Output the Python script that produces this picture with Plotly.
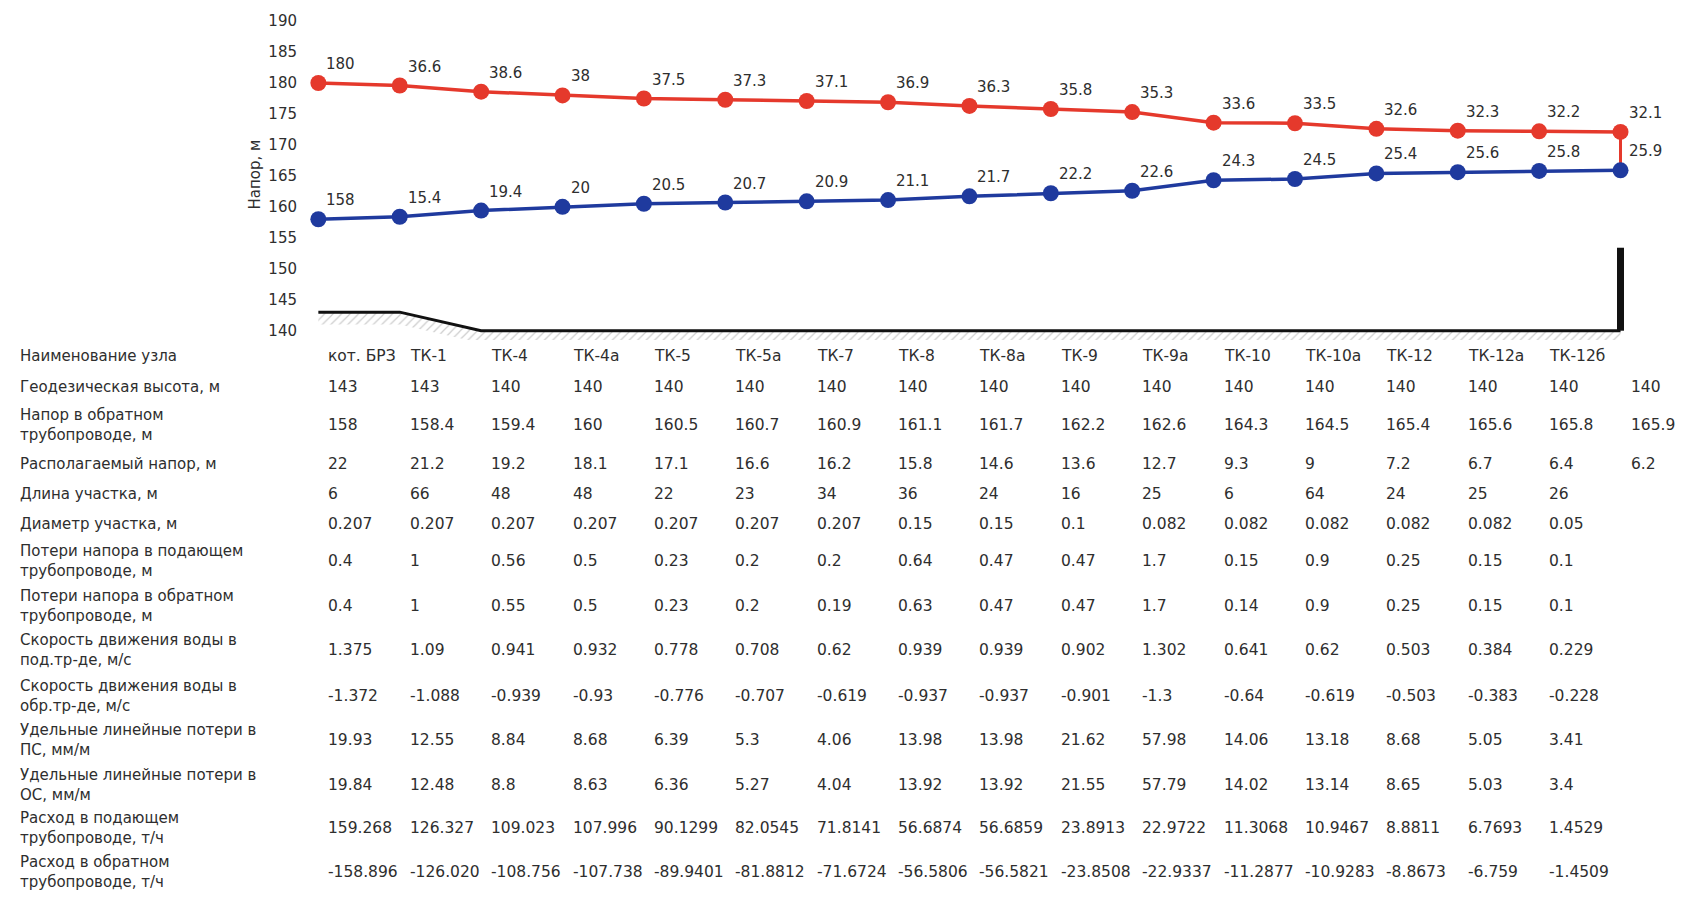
import plotly.graph_objects as go

# ---------------- data ----------------
nodes = ["кот. БРЗ", "ТК-1", "ТК-4", "ТК-4а", "ТК-5", "ТК-5а", "ТК-7", "ТК-8", "ТК-8а",
         "ТК-9", "ТК-9а", "ТК-10", "ТК-10а", "ТК-12", "ТК-12а", "ТК-12б", ""]
geo_height = [143, 143, 140, 140, 140, 140, 140, 140, 140, 140, 140, 140, 140, 140, 140, 140, 140]
supply_head = [180, 179.6, 178.6, 178, 177.5, 177.3, 177.1, 176.9, 176.3, 175.8, 175.3,
               173.6, 173.5, 172.6, 172.3, 172.2, 172.1]
return_head = [158, 158.4, 159.4, 160, 160.5, 160.7, 160.9, 161.1, 161.7, 162.2, 162.6,
               164.3, 164.5, 165.4, 165.6, 165.8, 165.9]
supply_labels = ["180", "36.6", "38.6", "38", "37.5", "37.3", "37.1", "36.9", "36.3", "35.8",
                 "35.3", "33.6", "33.5", "32.6", "32.3", "32.2", "32.1"]
return_labels = ["158", "15.4", "19.4", "20", "20.5", "20.7", "20.9", "21.1", "21.7", "22.2",
                 "22.6", "24.3", "24.5", "25.4", "25.6", "25.8", "25.9"]
consumer_top = 153.4  # top of the consumer marker at the last node

available_head = [22, 21.2, 19.2, 18.1, 17.1, 16.6, 16.2, 15.8, 14.6, 13.6, 12.7, 9.3, 9, 7.2, 6.7, 6.4, 6.2]
section_length = [6, 66, 48, 48, 22, 23, 34, 36, 24, 16, 25, 6, 64, 24, 25, 26]
section_diameter = [0.207, 0.207, 0.207, 0.207, 0.207, 0.207, 0.207, 0.15, 0.15, 0.1, 0.082,
                    0.082, 0.082, 0.082, 0.082, 0.05]
loss_supply = [0.4, 1, 0.56, 0.5, 0.23, 0.2, 0.2, 0.64, 0.47, 0.47, 1.7, 0.15, 0.9, 0.25, 0.15, 0.1]
loss_return = [0.4, 1, 0.55, 0.5, 0.23, 0.2, 0.19, 0.63, 0.47, 0.47, 1.7, 0.14, 0.9, 0.25, 0.15, 0.1]
vel_supply = [1.375, 1.09, 0.941, 0.932, 0.778, 0.708, 0.62, 0.939, 0.939, 0.902, 1.302,
              0.641, 0.62, 0.503, 0.384, 0.229]
vel_return = [-1.372, -1.088, -0.939, -0.93, -0.776, -0.707, -0.619, -0.937, -0.937, -0.901,
              -1.3, -0.64, -0.619, -0.503, -0.383, -0.228]
spec_loss_ps = [19.93, 12.55, 8.84, 8.68, 6.39, 5.3, 4.06, 13.98, 13.98, 21.62, 57.98,
                14.06, 13.18, 8.68, 5.05, 3.41]
spec_loss_os = [19.84, 12.48, 8.8, 8.63, 6.36, 5.27, 4.04, 13.92, 13.92, 21.55, 57.79,
                14.02, 13.14, 8.65, 5.03, 3.4]
flow_supply = ["159.268", "126.327", "109.023", "107.996", "90.1299", "82.0545", "71.8141",
               "56.6874", "56.6859", "23.8913", "22.9722", "11.3068", "10.9467", "8.8811",
               "6.7693", "1.4529"]
flow_return = ["-158.896", "-126.020", "-108.756", "-107.738", "-89.9401", "-81.8812",
               "-71.6724", "-56.5806", "-56.5821", "-23.8508", "-22.9337", "-11.2877",
               "-10.9283", "-8.8673", "-6.759", "-1.4509"]
y_ticks = [140, 145, 150, 155, 160, 165, 170, 175, 180, 185, 190]


def fmt(v):
    return v if isinstance(v, str) else f"{v:g}"


table_rows = [
    ("Наименование узла", nodes),
    ("Геодезическая высота, м", geo_height),
    ("Напор в обратном<br>трубопроводе, м", return_head),
    ("Располагаемый напор, м", available_head),
    ("Длина участка, м", section_length),
    ("Диаметр участка, м", section_diameter),
    ("Потери напора в подающем<br>трубопроводе, м", loss_supply),
    ("Потери напора в обратном<br>трубопроводе, м", loss_return),
    ("Скорость движения воды в<br>под.тр-де, м/с", vel_supply),
    ("Скорость движения воды в<br>обр.тр-де, м/с", vel_return),
    ("Удельные линейные потери в<br>ПС, мм/м", spec_loss_ps),
    ("Удельные линейные потери в<br>ОС, мм/м", spec_loss_os),
    ("Расход в подающем<br>трубопроводе, т/ч", flow_supply),
    ("Расход в обратном<br>трубопроводе, т/ч", flow_return),
]

# ---------------- layout constants ----------------
W, H = 1689, 899
M_L, M_R, M_T, M_B = 298, 40, 15, 559
PLOT_W = W - M_L - M_R
PLOT_H = H - M_T - M_B
row_px = [356, 387, 426, 465, 495, 526, 563, 608, 653, 699, 744, 789, 833, 877]

FONT = "DejaVu Sans"
TXT = "#2e2e2e"
RED = "#e5392c"
BLUE = "#1f3a9e"


def paper_y(py):
    return (H - M_B - py) / PLOT_H


def paper_x(px):
    return (px - M_L) / PLOT_W


xs = list(range(len(geo_height)))
lower_band = [g - 2 for g in geo_height]

fig = go.Figure()

# hatched ground band
fig.add_trace(go.Scatter(x=xs, y=lower_band, mode="lines", line=dict(width=0),
                         hoverinfo="skip", showlegend=False))
fig.add_trace(go.Scatter(x=xs, y=geo_height, mode="lines", fill="tonexty",
                         fillcolor="rgba(0,0,0,0)",
                         fillpattern=dict(shape="/", fgcolor="#9a9a9a", bgcolor="rgba(255,255,255,0)",
                                          size=6, solidity=0.2),
                         line=dict(color="#111111", width=3), showlegend=False))
# consumer bar
fig.add_trace(go.Scatter(x=[xs[-1], xs[-1]], y=[geo_height[-1], consumer_top], mode="lines",
                         line=dict(color="#111111", width=7), showlegend=False))
# red connector at the end
fig.add_trace(go.Scatter(x=[xs[-1], xs[-1]], y=[supply_head[-1], return_head[-1]], mode="lines",
                         line=dict(color=RED, width=3), showlegend=False))
# supply head
fig.add_trace(go.Scatter(x=xs, y=supply_head, mode="lines+markers",
                         line=dict(color=RED, width=3.5),
                         marker=dict(color=RED, size=16), showlegend=False))
# return head
fig.add_trace(go.Scatter(x=xs, y=return_head, mode="lines+markers",
                         line=dict(color=BLUE, width=3.5),
                         marker=dict(color=BLUE, size=16), showlegend=False))

annotations = []
for i in xs:
    annotations.append(dict(x=i, y=supply_head[i], xref="x", yref="y", text=supply_labels[i],
                            showarrow=False, xanchor="left", yanchor="middle", xshift=6, yshift=19,
                            font=dict(family=FONT, size=15, color=TXT)))
    annotations.append(dict(x=i, y=return_head[i], xref="x", yref="y", text=return_labels[i],
                            showarrow=False, xanchor="left", yanchor="middle", xshift=6, yshift=19,
                            font=dict(family=FONT, size=15, color=TXT)))

# y-axis title
annotations.append(dict(x=paper_x(255), y=paper_y(173), xref="paper", yref="paper",
                        text="Напор, м", textangle=-90, showarrow=False,
                        xanchor="center", yanchor="middle",
                        font=dict(family=FONT, size=15, color=TXT)))

# table
for (label, vals), py in zip(table_rows, row_px):
    annotations.append(dict(x=paper_x(18), y=paper_y(py), xref="paper", yref="paper",
                            text=label, showarrow=False, xanchor="left", yanchor="middle",
                            align="left", font=dict(family=FONT, size=15, color=TXT)))
    for i, v in enumerate(vals):
        annotations.append(dict(x=i, y=paper_y(py), xref="x", yref="paper", text=fmt(v),
                                showarrow=False, xanchor="left", yanchor="middle", xshift=8,
                                font=dict(family=FONT, size=15.5, color=TXT)))

fig.update_layout(
    width=W, height=H,
    margin=dict(l=M_L, r=M_R, t=M_T, b=M_B),
    paper_bgcolor="white", plot_bgcolor="white",
    xaxis=dict(range=[-0.25, 16.35], visible=False),
    yaxis=dict(range=[138.5, 190.5], tickvals=y_ticks, showgrid=False, zeroline=False,
               showline=False, ticks="", tickfont=dict(family=FONT, size=15, color=TXT)),
    annotations=annotations,
    showlegend=False,
)

fig.write_html("out.html")
